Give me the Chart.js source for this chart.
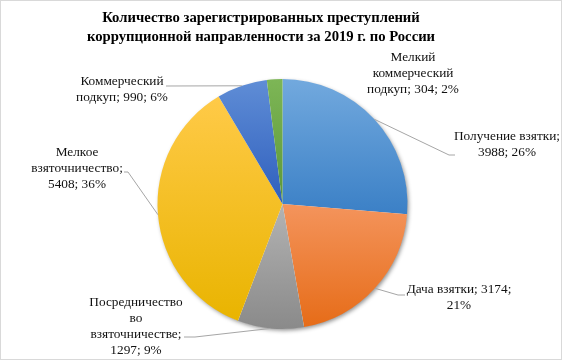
<!DOCTYPE html>
<html>
<head>
<meta charset="utf-8">
<script src="https://cdn.jsdelivr.net/npm/chart.js@4.4.1/dist/chart.umd.min.js"></script>
<style>
html,body{margin:0;padding:0;background:#fff;}
canvas{display:block;}
</style>
</head>
<body>
<canvas id="c" width="565" height="362"></canvas>
<script>
// ---- data ----
const titleLines = ['Количество зарегистрированных преступлений', 'коррупционной направленности за 2019 г. по России'];
const categories = ['Получение взятки', 'Дача взятки', 'Посредничество во взяточничестве', 'Мелкое взяточничество', 'Коммерческий подкуп', 'Мелкий коммерческий подкуп'];
const values = [3988, 3174, 1297, 5408, 990, 304];

// ---- styles ----
const topColors = ['#72a9de', '#f4945c', '#b3b3b3', '#ffca48', '#5f8dd6', '#7db656'];
const bottomColors = ['#3b80c6', '#e66c18', '#8a8a8a', '#e9b400', '#2f5fbd', '#5c9737'];
// label layout: centre x, first line y, wrap width, leader elbow points
const labelLayout = [
  {x: 507, y: 137, w: 112, leader: [[449, 155], [455, 155]]},
  {x: 459, y: 290, w: 108, leader: [[398, 295], [405, 295]]},
  {x: 136, y: 303, w: 98, leader: [[195, 337], [184, 337]]},
  {x: 77, y: 153, w: 98, leader: [[128, 172], [124, 172]]},
  {x: 122, y: 82, w: 96, leader: [[166, 86]]},
  {x: 413, y: 58, w: 96, leader: null}
];
const labelFont = '13.3px "Liberation Serif", "Times New Roman", serif';
const titleFont = 'bold 14.7px "Liberation Serif", "Times New Roman", serif';

const total = values.reduce((a, b) => a + b, 0);

// percentages rounded so that they sum to 100 (largest remainder, as Excel does)
const percents = (() => {
  const raw = values.map(v => v / total * 100);
  const fl = raw.map(Math.floor);
  let left = 100 - fl.reduce((a, b) => a + b, 0);
  const order = raw.map((r, i) => [r - Math.floor(r), i]).sort((a, b) => b[0] - a[0]);
  for (let k = 0; k < left; k++) fl[order[k][1]]++;
  return fl;
})();

function sliceGradient(ctx, i) {
  const chart = ctx.chart;
  const ca = chart.chartArea;
  if (!ca) return topColors[i];
  const cx = (ca.left + ca.right) / 2, cy = (ca.top + ca.bottom) / 2;
  const r = Math.min(ca.right - ca.left, ca.bottom - ca.top) / 2;
  let before = 0;
  for (let k = 0; k < i; k++) before += values[k];
  const a0 = -Math.PI / 2 + before / total * 2 * Math.PI;
  const a1 = a0 + values[i] / total * 2 * Math.PI;
  let ymin = cy, ymax = cy;
  const steps = 60;
  for (let s = 0; s <= steps; s++) {
    const a = a0 + (a1 - a0) * s / steps;
    const y = cy + Math.sin(a) * r;
    ymin = Math.min(ymin, y); ymax = Math.max(ymax, y);
  }
  const g = chart.ctx.createLinearGradient(0, ymin, 0, ymax);
  g.addColorStop(0, topColors[i]);
  g.addColorStop(1, bottomColors[i]);
  return g;
}

function wrap(ctx, text, maxW) {
  const words = text.split(' ');
  const lines = [];
  let cur = '';
  for (const w of words) {
    const t = cur ? cur + ' ' + w : w;
    if (cur && ctx.measureText(t).width > maxW) { lines.push(cur); cur = w; }
    else cur = t;
  }
  if (cur) lines.push(cur);
  return lines;
}

const decorPlugin = {
  id: 'decor',
  beforeDraw(chart) {
    const ctx = chart.ctx;
    ctx.save();
    ctx.fillStyle = '#fff';
    ctx.fillRect(0, 0, chart.width, chart.height);
    ctx.strokeStyle = '#d9d9d9';
    ctx.lineWidth = 1;
    ctx.strokeRect(0.5, 0.5, 561, 359);
    // title
    ctx.fillStyle = '#000';
    ctx.font = titleFont;
    ctx.textAlign = 'center';
    ctx.textBaseline = 'middle';
    ctx.fillText(titleLines[0], 261, 18);
    ctx.fillText(titleLines[1], 261, 37);
    ctx.restore();
  },
  beforeDatasetsDraw(chart) {
    const meta = chart.getDatasetMeta(0);
    const el = meta.data[0];
    if (!el) return;
    const ctx = chart.ctx;
    ctx.save();
    ctx.shadowColor = 'rgba(0,0,0,0.45)';
    ctx.shadowBlur = 4;
    ctx.shadowOffsetX = 1.5;
    ctx.shadowOffsetY = 2;
    ctx.fillStyle = '#fff';
    ctx.beginPath();
    ctx.arc(el.x, el.y, el.outerRadius - 0.5, 0, Math.PI * 2);
    ctx.fill();
    ctx.restore();
  },
  afterDatasetsDraw(chart) {
    const meta = chart.getDatasetMeta(0);
    const ctx = chart.ctx;
    ctx.save();
    ctx.font = labelFont;
    ctx.textAlign = 'center';
    ctx.textBaseline = 'middle';
    meta.data.forEach((el, i) => {
      const L = labelLayout[i];
      const mid = (el.startAngle + el.endAngle) / 2;
      const px = el.x + Math.cos(mid) * el.outerRadius;
      const py = el.y + Math.sin(mid) * el.outerRadius;
      if (L.leader) {
        ctx.strokeStyle = '#a6a6a6';
        ctx.lineWidth = 1;
        ctx.beginPath();
        ctx.moveTo(px, py);
        L.leader.forEach(p => ctx.lineTo(p[0], p[1]));
        ctx.stroke();
      }
      const text = categories[i] + '; ' + values[i] + '; ' + percents[i] + '%';
      const lines = wrap(ctx, text, L.w);
      ctx.fillStyle = '#111';
      lines.forEach((ln, k) => ctx.fillText(ln, L.x, L.y + k * 15.8));
    });
    ctx.restore();
  }
};

new Chart(document.getElementById('c'), {
  type: 'pie',
  data: {
    labels: categories,
    datasets: [{
      data: values,
      backgroundColor: (ctx) => sliceGradient(ctx, ctx.dataIndex),
      borderWidth: 0
    }]
  },
  options: {
    responsive: false,
    animation: false,
    devicePixelRatio: 1,
    layout: {padding: {top: 79, bottom: 33, left: 100, right: 100}},
    plugins: {legend: {display: false}, tooltip: {enabled: false}, title: {display: false}}
  },
  plugins: [decorPlugin]
});
</script>
</body>
</html>
